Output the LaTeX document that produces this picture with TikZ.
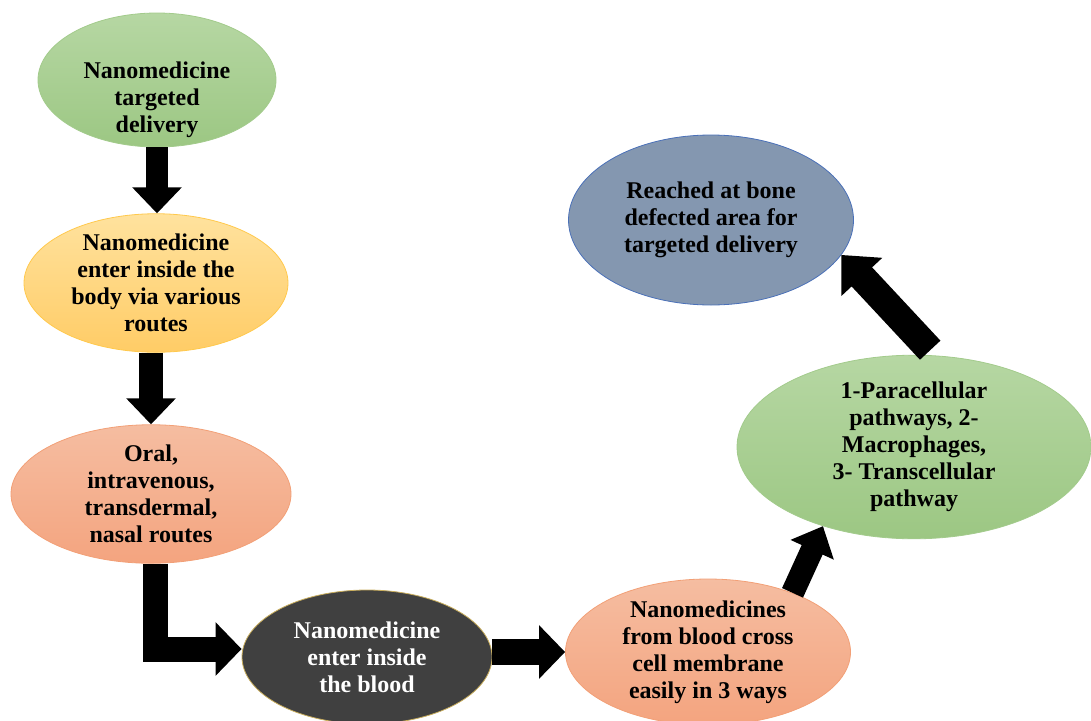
\documentclass[tikz,border=0pt]{standalone}
\usepackage{fontspec}
\setmainfont{Liberation Serif}
\usetikzlibrary{shapes.geometric,arrows.meta}

\definecolor{leafTop}{HTML}{B6D7A3}
\definecolor{leafBot}{HTML}{9CC783}
\definecolor{leafLine}{HTML}{A3CB8C}
\definecolor{sunTop}{HTML}{FFE29E}
\definecolor{sunBot}{HTML}{FFCC66}
\definecolor{sunLine}{HTML}{FFC94D}
\definecolor{peachTop}{HTML}{F5BDA1}
\definecolor{peachBot}{HTML}{F4A47F}
\definecolor{peachLine}{HTML}{F2A077}
\definecolor{inkFill}{HTML}{404040}
\definecolor{inkLine}{HTML}{C9AE5D}
\definecolor{slateFill}{HTML}{8497B0}
\definecolor{slateLine}{HTML}{4A70B8}

\tikzset{
  blobtext/.style={inner sep=0pt, align=center,
    font=\fontsize{24}{27}\selectfont\bfseries},
  blob/.style={blobtext, ellipse, line width=0.8pt},
  leaf/.style={blob, draw=leafLine, top color=leafTop, bottom color=leafBot},
  sun/.style={blob, draw=sunLine, top color=sunTop, bottom color=sunBot},
  peach/.style={blob, draw=peachLine, top color=peachTop, bottom color=peachBot},
  fatarrow/.style={line width=24pt, -{Triangle[width=48pt,length=26pt]}}
}

\begin{document}
\begin{tikzpicture}[x=1pt,y=-1pt]
  \useasboundingbox (0,0) rectangle (1091,720);

  % the ellipses, left column first
  \node[leaf, minimum width=238pt, minimum height=134pt] (deliv) at (157,80) {};
  \node[blobtext] (delivtext) at ([yshift=-20pt]deliv.center)
    {Nanomedicine\\targeted\\delivery};
  \node[sun, minimum width=264pt, minimum height=134pt] (enter) at (156,283)
    {Nanomedicine\\enter inside the\\body via various\\routes};
  \node[peach, minimum width=280pt, minimum height=136pt] (routes) at (151,494)
    {Oral,\\intravenous,\\transdermal,\\nasal routes};

  % bottom row
  \node[blob, draw=inkLine, fill=inkFill, text=white,
    minimum width=250pt, minimum height=134pt] (blood) at (367,657)
    {Nanomedicine\\enter inside\\the blood};
  \node[peach, minimum width=285pt, minimum height=146pt] (cross) at (708,652)
    {Nanomedicines\\from blood cross\\cell membrane\\easily in 3 ways};

  % right side
  \node[leaf, minimum width=354pt, minimum height=144pt] (ways) at (914,447)
    {1-Paracellular\\pathways, 2-\\Macrophages,\\3- Transcellular\\pathway};
  \node[blob, draw=slateLine, fill=slateFill,
    minimum width=285pt, minimum height=170pt] (bone) at (711,220)
    {Reached at bone\\defected area for\\targeted delivery};

  % Draw the block arrows
  \draw[fatarrow, line width=22pt] (deliv.south) -- (deliv.south |- enter.north);
  \draw[fatarrow] (routes.north |- enter.south) -- (routes.north);
  \draw[fatarrow, line width=25pt, line join=miter, -{Triangle[width=52pt,length=26pt]}]
    ([xshift=4pt]routes.south) |- ([yshift=8pt]blood.west);
  \draw[fatarrow, line width=26pt, -{Triangle[width=52pt,length=26pt]}]
    (cross.west -| blood.east) -- (cross.west);
  \draw[fatarrow, line width=23pt, -{Triangle[width=46pt,length=26pt]}] (cross.35) -- (ways.221);
  \draw[fatarrow, line width=28pt, -{Triangle[width=54pt,length=30pt]}]
    ([yshift=5pt]ways.80) -- (bone.-15);
\end{tikzpicture}
\end{document}
